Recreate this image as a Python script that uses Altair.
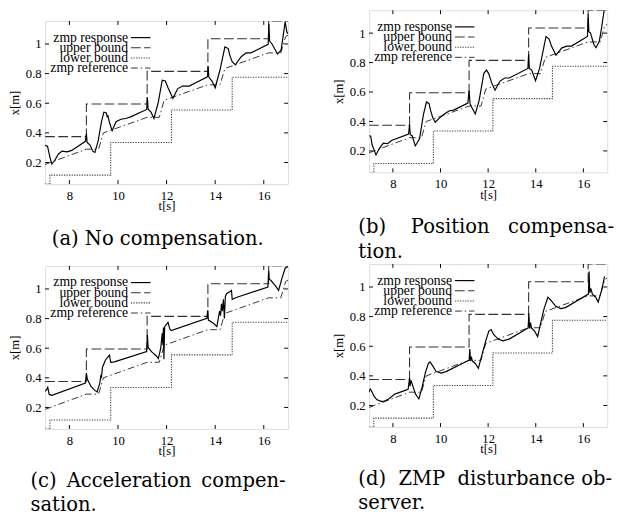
import altair as alt
import pandas as pd

# ---------------- data ----------------
X_TICKS = [8, 10, 12, 14, 16]
Y_TICKS = [0.2, 0.4, 0.6, 0.8, 1.0]
SERIES = ["zmp response", "upper bound", "lower bound", "zmp reference"]

UPPER_T = [7.0, 8.7, 11.2, 13.7, 16.2, 17.0]
UPPER_X = [0.375, 0.595, 0.815, 1.035, 1.156, 1.156]
LOWER_T = [7.0, 7.2, 9.7, 12.2, 14.7, 17.0]
LOWER_X = [0.054, 0.115, 0.335, 0.555, 0.775, 0.775]
REF_T = [7.0, 8.7, 9.2, 9.4, 11.2, 11.7, 11.9, 13.7, 14.2, 14.4, 16.2, 16.7, 16.9, 17.0]
REF_X = [0.187, 0.29, 0.29, 0.40, 0.505, 0.505, 0.62, 0.725, 0.725, 0.835, 0.94, 0.94, 1.05, 1.06]

RESP_A_T = [7.00, 7.10, 7.20, 7.28, 7.40, 7.55, 7.70, 7.90, 8.10, 8.66, 8.70, 8.73, 8.85, 8.97,
            9.05, 9.18, 9.32, 9.42, 9.52, 9.56, 9.58, 9.65, 9.76, 9.92, 10.12, 10.32, 10.52,
            11.18, 11.21, 11.24, 11.36, 11.48, 11.66, 11.82, 11.95, 12.06, 12.26, 12.46, 12.66,
            12.93, 13.20, 13.68, 13.71, 13.74, 13.87, 14.00, 14.20, 14.40, 14.54, 14.60, 14.70,
            14.83, 15.07, 15.27, 15.47, 16.18, 16.21, 16.24, 16.34, 16.48, 16.57, 16.71, 16.81,
            16.88, 16.95, 17.00]
RESP_A_X = [0.316, 0.310, 0.235, 0.190, 0.215, 0.258, 0.277, 0.272, 0.282, 0.343, 0.395, 0.335,
            0.318, 0.275, 0.268, 0.343, 0.475, 0.540, 0.535, 0.505, 0.520, 0.470, 0.415, 0.475,
            0.492, 0.497, 0.508, 0.558, 0.640, 0.560, 0.540, 0.497, 0.607, 0.756, 0.750, 0.705,
            0.633, 0.699, 0.716, 0.716, 0.738, 0.778, 0.850, 0.775, 0.750, 0.705, 0.826, 0.980,
            0.969, 0.925, 0.881, 0.859, 0.914, 0.940, 0.940, 0.998, 1.135, 1.020, 1.000, 0.958,
            0.932, 0.958, 1.068, 1.152, 1.080, 1.070]

RESP_B_T = [7.00, 7.07, 7.13, 7.29, 7.43, 7.60, 7.78, 7.94, 8.66, 8.70, 8.73, 8.81, 8.94, 9.12,
            9.28, 9.41, 9.52, 9.58, 9.68, 9.78, 9.95, 10.15, 10.35, 10.55, 11.15, 11.20, 11.24,
            11.30, 11.46, 11.62, 11.82, 11.93, 12.02, 12.15, 12.29, 12.49, 12.69, 12.89, 13.67,
            13.70, 13.73, 13.83, 13.99, 14.16, 14.43, 14.56, 14.66, 14.85, 15.10, 15.30, 15.50,
            16.17, 16.20, 16.23, 16.30, 16.44, 16.53, 16.67, 16.77, 16.87]
RESP_B_X = [0.303, 0.300, 0.240, 0.173, 0.216, 0.253, 0.249, 0.271, 0.314, 0.380, 0.310, 0.303,
            0.234, 0.282, 0.445, 0.532, 0.521, 0.477, 0.423, 0.395, 0.423, 0.449, 0.471, 0.477,
            0.525, 0.610, 0.521, 0.500, 0.451, 0.542, 0.727, 0.749, 0.727, 0.662, 0.612, 0.673,
            0.695, 0.695, 0.760, 0.858, 0.760, 0.749, 0.677, 0.760, 0.977, 0.960, 0.912, 0.850,
            0.900, 0.912, 0.912, 0.977, 1.130, 1.010, 1.000, 0.923, 0.901, 0.945, 1.042, 1.152]

RESP_C_T = [7.00, 7.06, 7.11, 7.17, 7.28, 8.66, 8.70, 8.74, 8.89, 9.05, 9.14, 9.25, 9.30, 9.32,
            9.36, 9.48, 9.65, 9.70, 9.85, 11.18, 11.21, 11.24, 11.39, 11.59, 11.66, 11.76, 11.82,
            11.85, 11.87, 11.89, 11.92, 12.06, 12.13, 12.19, 13.66, 13.69, 13.72, 13.93, 14.07,
            14.18, 14.22, 14.26, 14.30, 14.34, 14.38, 14.42, 14.47, 14.67, 14.70, 14.87, 16.17,
            16.20, 16.23, 16.28, 16.48, 16.61, 16.75, 16.88, 17.00]
RESP_C_X = [0.308, 0.320, 0.336, 0.288, 0.282, 0.364, 0.432, 0.390, 0.342, 0.315, 0.304, 0.364,
            0.420, 0.400, 0.470, 0.519, 0.553, 0.505, 0.508, 0.578, 0.690, 0.605, 0.575, 0.546,
            0.530, 0.600, 0.700, 0.620, 0.740, 0.525, 0.745, 0.775, 0.731, 0.719, 0.802, 0.855,
            0.790, 0.768, 0.746, 0.850, 0.820, 0.900, 0.850, 0.930, 0.800, 0.950, 0.968, 0.990,
            0.930, 0.942, 1.013, 1.120, 1.064, 1.060, 1.020, 0.990, 1.073, 1.140, 1.152]

RESP_D_T = [7.00, 7.05, 7.10, 7.20, 7.32, 7.50, 7.65, 7.82, 8.08, 8.64, 8.70, 8.72, 8.75, 8.80,
            8.95, 9.09, 9.22, 9.36, 9.49, 9.56, 9.65, 9.82, 10.03, 10.23, 11.20, 11.23, 11.26,
            11.29, 11.34, 11.46, 11.59, 11.77, 11.90, 12.03, 12.13, 12.23, 12.43, 12.63, 12.90,
            13.68, 13.71, 13.74, 13.78, 13.82, 13.95, 14.08, 14.22, 14.35, 14.51, 14.64, 14.84,
            15.05, 15.25, 16.21, 16.24, 16.27, 16.31, 16.38, 16.52, 16.62, 16.76, 16.89]
RESP_D_X = [0.290, 0.312, 0.300, 0.265, 0.240, 0.228, 0.230, 0.244, 0.277, 0.310, 0.386, 0.330,
            0.370, 0.350, 0.277, 0.244, 0.320, 0.419, 0.484, 0.495, 0.473, 0.429, 0.419, 0.429,
            0.506, 0.582, 0.500, 0.530, 0.500, 0.484, 0.451, 0.560, 0.636, 0.702, 0.713, 0.680,
            0.647, 0.636, 0.650, 0.724, 0.822, 0.720, 0.760, 0.724, 0.702, 0.665, 0.767, 0.854,
            0.931, 0.909, 0.870, 0.854, 0.861, 0.952, 1.105, 0.960, 0.990, 0.952, 0.930, 0.898,
            0.974, 1.072]

NB = "\u00a0"
TH = "\u2009"
CAPTION_A = ["(a) No compensation."]
CAPTION_B = ["(b)" + NB * 4 + "Position" + NB * 3 + "compensa-", "tion."]
CAPTION_C = ["(c)" + NB + TH + "Acceleration" + NB + TH + "compen-", "sation."]
CAPTION_D = ["(d)" + NB * 2 + "ZMP" + NB * 2 + "disturbance" + NB + "ob-", "server."]

# ---------------- styling ----------------
FONT = "Liberation Serif, Times New Roman, Times, serif"
CAP_FONT = "DejaVu Serif"
XS = alt.Scale(domain=[7, 17], nice=False, zero=False)
YS = alt.Scale(domain=[0.055, 1.155], nice=False, zero=False)

STYLES = [
    dict(color="black", strokeWidth=1.2),
    dict(color="#333333", strokeWidth=1.1, strokeDash=[10, 3.5]),
    dict(color="#444444", strokeWidth=1.1, strokeDash=[1.3, 1.3]),
    dict(color="#333333", strokeWidth=1.0, strokeDash=[7, 3, 1.5, 3]),
]


def xaxis():
    return alt.Axis(values=X_TICKS, title="t[s]", ticks=False, tickSize=0, domain=False, grid=False,
                    labelFont=FONT, labelFontSize=13, labelPadding=6, labelColor="black",
                    titleFont=FONT, titleFontSize=13, titleFontWeight="normal", titleColor="black",
                    titleY=16.5, titleBaseline="top")


def yaxis():
    return alt.Axis(values=Y_TICKS, format="~g", title="x[m]", ticks=False, tickSize=0, domain=False,
                    grid=False, labelFont=FONT, labelFontSize=13, labelPadding=4, labelColor="black",
                    titleFont=FONT, titleFontSize=13, titleFontWeight="normal", titleColor="black",
                    titleX=-37.5, titleBaseline="top")


def series(t, v, style, interp="linear"):
    df = pd.DataFrame({"t": t, "v": v})
    return alt.Chart(df).mark_line(clip=True, interpolate=interp, **style).encode(
        x=alt.X("t:Q", scale=XS, axis=xaxis()),
        y=alt.Y("v:Q", scale=YS, axis=yaxis()),
    )


def panel(rt, rv, caption, W, H, anchor, dx, cap_offset, top_space=0):
    layers = [
        series(LOWER_T, LOWER_X, STYLES[2], "step-after"),
        series(UPPER_T, UPPER_X, STYLES[1], "step-after"),
        series(REF_T, REF_X, STYLES[3]),
        series(rt, rv, STYLES[0]),
    ]
    xt = pd.DataFrame({"t": X_TICKS})
    yt = pd.DataFrame({"v": Y_TICKS})
    for (a, b) in [(0, 4), (H, H - 4)]:
        layers.append(alt.Chart(xt).mark_rule(color="black", strokeWidth=1).encode(
            x=alt.X("t:Q", scale=XS, axis=xaxis()), y=alt.value(a), y2=alt.value(b)))
    for (a, b) in [(0, 4), (W, W - 4)]:
        layers.append(alt.Chart(yt).mark_rule(color="black", strokeWidth=1).encode(
            y=alt.Y("v:Q", scale=YS, axis=yaxis()), x=alt.value(a), x2=alt.value(b)))
    # legend (drawn manually: label left of the line sample)
    for i, name in enumerate(SERIES):
        ly = 17 + 10.4 * i
        ldf = pd.DataFrame({"label": [name]})
        layers.append(alt.Chart(ldf).mark_text(align="right", baseline="middle", font=FONT,
                                               fontSize=14, color="black").encode(
            text="label:N", x=alt.value(85), y=alt.value(ly)))
        layers.append(alt.Chart(ldf).mark_rule(**STYLES[i]).encode(
            x=alt.value(88), x2=alt.value(108), y=alt.value(ly)))
    if top_space:
        sdf = pd.DataFrame({"label": [NB]})
        layers.append(alt.Chart(sdf).mark_text(align="left", baseline="top", fontSize=top_space,
                                               color="white").encode(
            text="label:N", x=alt.value(0), y=alt.value(-top_space)))
    return alt.layer(*layers).properties(
        width=W, height=H,
        title=alt.TitleParams(text=caption, orient="bottom", anchor=anchor, frame="group", dx=dx,
                              offset=cap_offset, font=CAP_FONT, fontSize=20, fontWeight="normal",
                              color="black", lineHeight=25),
    )


pa = panel(RESP_A_T, RESP_A_X, CAPTION_A, 249, 167, "middle", -9, 17)
pb = panel(RESP_B_T, RESP_B_X, CAPTION_B, 244, 166, "start", -11, 17)
pc = panel(RESP_C_T, RESP_C_X, CAPTION_C, 249, 167, "start", -15, 13.5, top_space=8)
pd_ = panel(RESP_D_T, RESP_D_X, CAPTION_D, 244, 167, "start", -11, 13.5)

# invisible 1px spacer that lowers the left column a little, as in the original layout
spacer = alt.Chart(pd.DataFrame({"k": [0]})).mark_rule(strokeOpacity=0, strokeWidth=0).encode(
    x=alt.value(0), x2=alt.value(1), y=alt.value(0)
).properties(width=1, height=1, view=alt.ViewBackground(stroke="transparent"))

left = alt.vconcat(spacer, pa, pc, spacing=8)
right = alt.vconcat(pb, pd_, spacing=1)

chart = alt.hconcat(left, right, spacing=44
                    ).properties(padding={"left": 0, "top": -5, "right": 0, "bottom": 0}
                    ).configure_view(stroke="black", strokeWidth=1.3
                    ).configure(background="white")

chart.save("out.html", embed_options={"renderer": "svg", "actions": False})
